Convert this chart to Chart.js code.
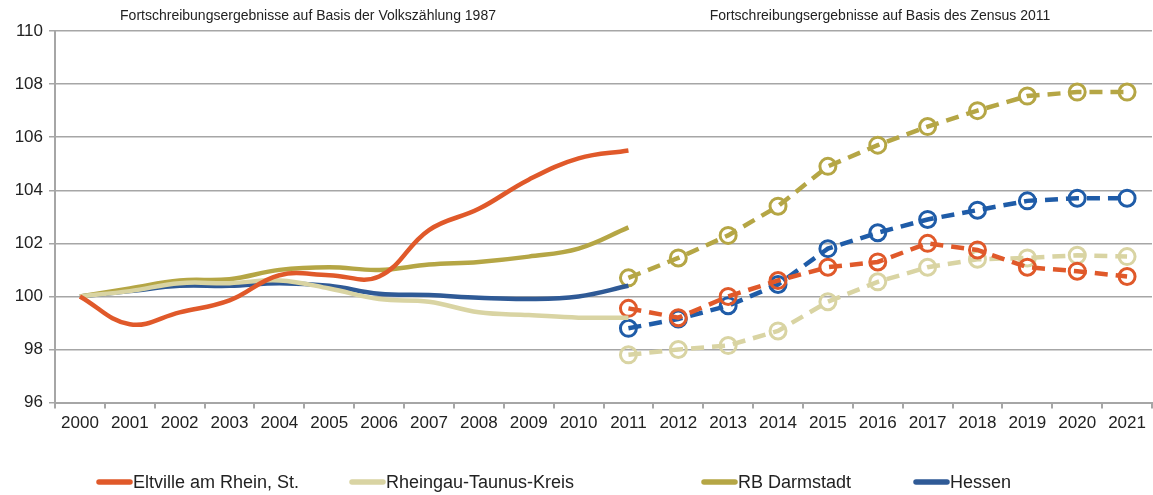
<!DOCTYPE html>
<html>
<head>
<meta charset="utf-8">
<script src="https://cdn.jsdelivr.net/npm/chart.js@4"></script>
<style>
  html, body { margin: 0; padding: 0; background: #fff; overflow: hidden; }
  #wrap { width: 1153px; height: 495px; }
</style>
</head>
<body>
<div id="wrap"><canvas id="chart-bevoelkerung"></canvas></div>
<script>
const jahre = ["2000", "2001", "2002", "2003", "2004", "2005", "2006", "2007", "2008", "2009", "2010",
  "2011", "2012", "2013", "2014", "2015", "2016", "2017", "2018", "2019", "2020", "2021"];

// Fortschreibung auf Basis der Volkszählung 1987 (2000-2011)
const eltvilleAlt = [100, 98.95, 99.4, 99.85, 100.8, 100.8, 100.75, 102.5, 103.3, 104.4, 105.2, 105.5];
const rheingauAlt = [100, 100.2, 100.5, 100.5, 100.6, 100.3, 99.9, 99.8, 99.4, 99.3, 99.2, 99.2];
const darmstadtAlt = [100, 100.3, 100.6, 100.65, 101.0, 101.1, 101.0, 101.2, 101.3, 101.5, 101.8, 102.6];
const hessenAlt = [100, 100.2, 100.4, 100.4, 100.5, 100.4, 100.1, 100.05, 99.95, 99.9, 100.0, 100.4];

// Fortschreibung auf Basis des Zensus 2011 (2011-2021)
const eltvilleNeu = [99.55, 99.2, 100.0, 100.6, 101.1, 101.3, 102.0, 101.75, 101.1, 100.95, 100.75];
const rheingauNeu = [97.8, 98.0, 98.15, 98.7, 99.8, 100.55, 101.1, 101.4, 101.45, 101.55, 101.5];
const darmstadtNeu = [100.7, 101.45, 102.3, 103.4, 104.9, 105.7, 106.4, 107.0, 107.55, 107.7, 107.7];
const hessenNeu = [98.8, 99.15, 99.65, 100.45, 101.8, 102.4, 102.9, 103.25, 103.6, 103.7, 103.7];

const yTicks = [96, 98, 100, 102, 104, 106, 108, 110];

const FONT = "'Liberation Sans Narrow', 'Arial Narrow', 'Liberation Sans', Arial, sans-serif";

const alt = (arr) => arr.concat(Array(jahre.length - arr.length).fill(null));
const neu = (arr) => Array(jahre.length - arr.length).fill(null).concat(arr);

function solid(label, data, color) {
  return {
    label,
    data: alt(data),
    borderColor: color,
    backgroundColor: color,
    borderWidth: 4.5,
    tension: 0.4,
    pointRadius: 0,
    pointHoverRadius: 0,
  };
}

function dashed(label, data, color) {
  return {
    label,
    data: neu(data),
    borderColor: color,
    backgroundColor: "rgba(0,0,0,0)",
    borderWidth: 4.5,
    borderDash: [13, 8],
    tension: 0,
    pointRadius: 8,
    pointBorderWidth: 3,
    pointBorderColor: color,
    pointBackgroundColor: "rgba(0,0,0,0)",
    neu: true,
  };
}

// Kopfzeilen über beiden Zeitabschnitten
const headerPlugin = {
  id: "kopfzeilen",
  afterDraw(chart) {
    const ctx = chart.ctx;
    ctx.save();
    ctx.font = "14px " + FONT;
    ctx.fillStyle = "#222";
    ctx.textAlign = "center";
    ctx.textBaseline = "middle";
    ctx.fillText("Fortschreibungsergebnisse auf Basis der Volkszählung 1987", 308, 16);
    ctx.fillText("Fortschreibungsergebnisse auf Basis des Zensus 2011", 880, 16);
    ctx.restore();
  },
};

// Legende unten, nur für die durchgezogenen Reihen
const legendX = [97, 350, 702, 914];
const legendPlugin = {
  id: "legende",
  afterDraw(chart) {
    const ctx = chart.ctx;
    const y = 482;
    ctx.save();
    ctx.font = "18px " + FONT;
    ctx.textBaseline = "middle";
    ctx.textAlign = "left";
    chart.data.datasets
      .filter((ds) => !ds.neu)
      .forEach((ds, i) => {
        const x = legendX[i];
        ctx.strokeStyle = ds.borderColor;
        ctx.lineWidth = 5.5;
        ctx.lineCap = "round";
        ctx.beginPath();
        ctx.moveTo(x + 2, y);
        ctx.lineTo(x + 33, y);
        ctx.stroke();
        ctx.fillStyle = "#222";
        ctx.fillText(ds.label, x + 36, y + 1);
      });
    ctx.restore();
  },
};

new Chart(document.getElementById("chart-bevoelkerung"), {
  type: "line",
  data: {
    labels: jahre,
    datasets: [
      solid("Eltville am Rhein, St.", eltvilleAlt, "#E0592A"),
      solid("Rheingau-Taunus-Kreis", rheingauAlt, "#D9D4A3"),
      solid("RB Darmstadt", darmstadtAlt, "#B5A645"),
      solid("Hessen", hessenAlt, "#2F5A96"),
      dashed("Eltville am Rhein, St. (Zensus)", eltvilleNeu, "#E0592A"),
      dashed("Rheingau-Taunus-Kreis (Zensus)", rheingauNeu, "#D9D4A3"),
      dashed("RB Darmstadt (Zensus)", darmstadtNeu, "#B5A645"),
      dashed("Hessen (Zensus)", hessenNeu, "#1F5CA8"),
    ],
  },
  options: {
    responsive: true,
    maintainAspectRatio: false,
    animation: false,
    spanGaps: false,
    layout: { autoPadding: false, padding: { top: 31, right: 1, left: 0, bottom: 56 } },
    plugins: {
      legend: { display: false },
      tooltip: { enabled: false },
    },
    scales: {
      x: {
        offset: true,
        afterFit: (axis) => {
          axis.paddingLeft = 0;
          axis.paddingRight = 0;
        },
        grid: {
          offset: true,
          drawOnChartArea: false,
          tickLength: 6,
          color: "#A6A6A6",
          lineWidth: 2,
        },
        border: { color: "#A6A6A6", width: 2 },
        ticks: {
          color: "#222",
          padding: 5,
          maxRotation: 0,
          autoSkip: false,
          font: { family: FONT, size: 17 },
        },
      },
      y: {
        min: 96,
        max: 110,
        afterBuildTicks: (axis) => {
          axis.ticks = yTicks.map((v) => ({ value: v }));
        },
        afterFit: (axis) => {
          axis.width = 55;
          axis.paddingTop = 0;
          axis.paddingBottom = 0;
        },
        grid: {
          color: "#A6A6A6",
          lineWidth: 1.5,
          tickLength: 6,
        },
        border: { color: "#A6A6A6", width: 2 },
        ticks: {
          color: "#222",
          padding: 6,
          font: { family: FONT, size: 17 },
        },
      },
    },
  },
  plugins: [headerPlugin, legendPlugin],
});
</script>
</body>
</html>
